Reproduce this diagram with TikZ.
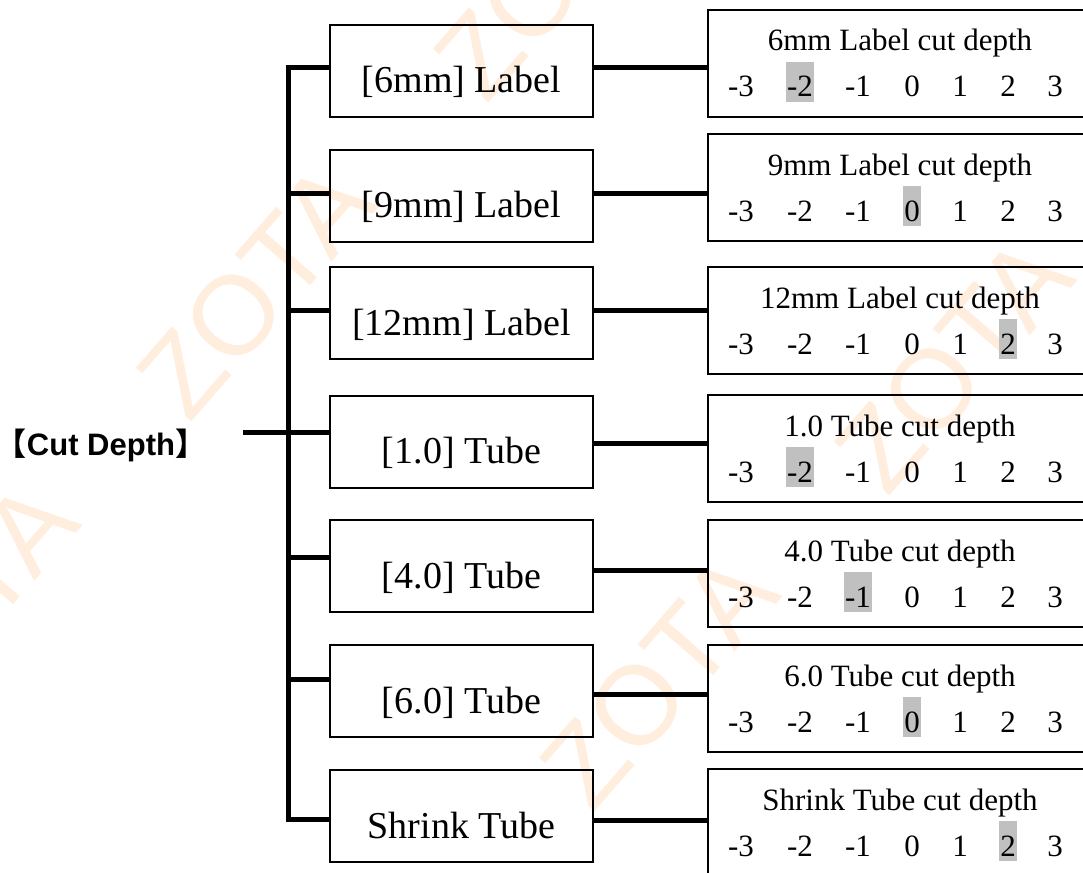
\documentclass[tikz,border=0pt]{standalone}
\usepackage{fontspec}
\setmainfont{Liberation Serif}
\setsansfont{Liberation Sans}
\newfontfamily\cjkfont{Noto Sans CJK SC}
\usepackage{tikz}
\definecolor{markgray}{RGB}{192,192,192}
\definecolor{stampcolor}{RGB}{255,238,222}

\tikzset{
  itembox/.style={draw, line width=2pt, minimum width=263pt, minimum height=92pt,
    inner sep=0pt, text height=68pt, text depth=24pt, font=\fontsize{38}{44}\selectfont},
  depthbox/.style={draw, line width=2pt, minimum width=384pt, minimum height=107pt, inner sep=0pt},
  depthtitle/.style={anchor=base, inner sep=0pt, font=\fontsize{31}{36}\selectfont},
  depthnum/.style={anchor=base, inner xsep=1pt, inner ysep=0pt, text height=35pt,
    text depth=5pt, font=\fontsize{31}{36}\selectfont},
  picked/.style={fill=markgray},
  branch/.style={line width=5pt},
  stamp/.style={text=stampcolor, font=\sffamily\fontsize{112}{120}\selectfont, rotate=49, inner sep=0pt}
}

\begin{document}
\begin{tikzpicture}[x=1pt, y=-1pt]
  \useasboundingbox (0,0) rectangle (1083,872);
  \clip (0,0) rectangle (1083,872);

  % Watermark
  \node[stamp] (wm1) at (-41,609) {ZOTA};
  \node[stamp] (wm2) at (256,290) {ZOTA};
  \node[stamp] (wm3) at (553,-29) {ZOTA};
  \node[stamp] (wm4) at (659,680) {ZOTA};
  \node[stamp] (wm5) at (954,364) {ZOTA};

  % Root label
  \node[anchor=base, inner sep=0pt, font=\sffamily\bfseries\fontsize{31}{36}\selectfont]
    (root) at (101,455) {{\cjkfont 【}Cut Depth{\cjkfont 】}};

  % Item boxes
  \foreach \i/\y/\txt in {1/71/{[6mm] Label}, 2/195.5/{[9mm] Label}, 3/313/{[12mm] Label},
      4/441.5/{[1.0] Tube}, 5/566/{[4.0] Tube}, 6/691/{[6.0] Tube}, 7/816/{Shrink Tube}}
    \node[itembox] (L\i) at (461.5,\y) {\txt};

  % Depth boxes
  \foreach \i/\t/\txt/\pick in {1/10/6mm Label/-2, 2/134/9mm Label/0, 3/267/12mm Label/2,
      4/395/1.0 Tube/-2, 5/520/4.0 Tube/-1, 6/645/6.0 Tube/0, 7/769/Shrink Tube/2} {
    \node[depthbox] (R\i) at (900,\t+53.5) {};
    \node[depthtitle] (T\i) at (900,\t+41) {\txt{} cut depth};
    \foreach \n/\x in {-3/741, -2/800, -1/858, 0/912, 1/960, 2/1008, 3/1055} {
      \ifnum\n=\pick \def\numstyle{picked}\else\def\numstyle{}\fi
      \node[depthnum, \numstyle] (N\i\x) at (\x,\t+87) {\n};
    }
  }

  % Tree lines
  \coordinate (top) at (288,68);
  \coordinate (bottom) at (288,819);
  \coordinate (rootend) at (243,432);
  \draw[branch] (L1.west |- top) -- (top) -- (bottom) -- (L7.west |- bottom);
  \draw[branch] (rootend) -- (rootend -| L4.west);
  \foreach \i/\y in {2/193, 3/310, 5/557, 6/679}
    \draw[branch] (top |- 0,\y) -- (L\i.west |- 0,\y);

  % Item to depth
  \foreach \i/\y in {1/68, 2/193, 3/310, 4/443, 5/570, 6/694, 7/820}
    \draw[branch] (L\i.east |- 0,\y) -- (R\i.west |- 0,\y);
\end{tikzpicture}
\end{document}
